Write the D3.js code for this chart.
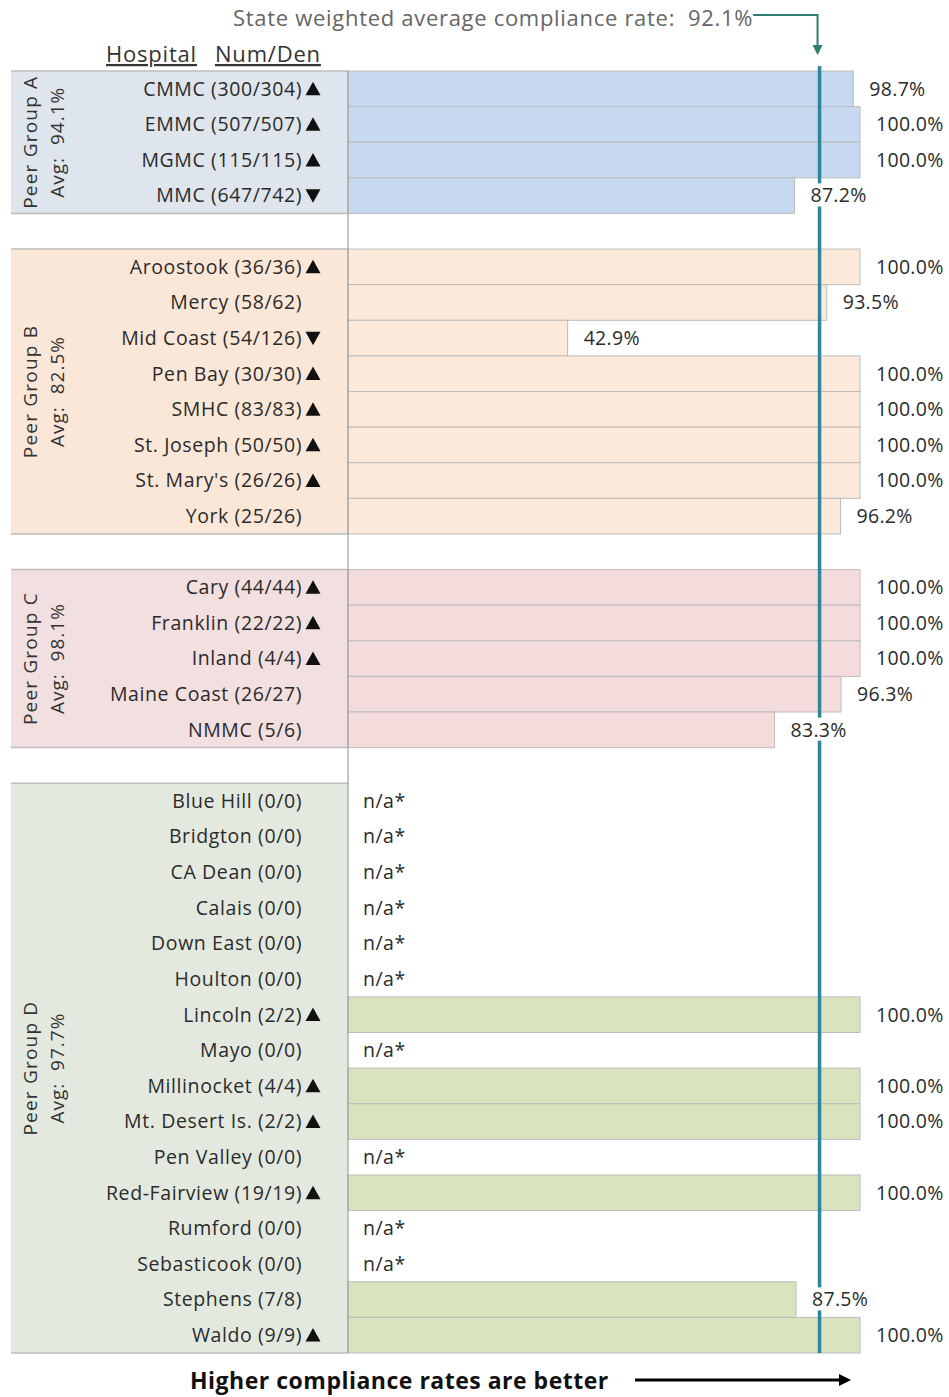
<!DOCTYPE html>
<html><head><meta charset="utf-8">
<script src="https://cdn.jsdelivr.net/npm/d3@7"></script>
<style>body{margin:0;background:#fff}svg{display:block}text{white-space:pre}</style>
</head><body>
<svg id="c" width="949" height="1397"></svg>
<script>
const groups = ["A","B","C","D"];
const groupNames = ["Peer Group A","Peer Group B","Peer Group C","Peer Group D"];
const groupAvgs = ["Avg:  94.1%","Avg:  82.5%","Avg:  98.1%","Avg:  97.7%"];
const groupFill = ["#dfe5ec","#fbe7d8","#f2dfdf","#e4e9e0"];
const barFill = ["#c6d9f1","#fde9d9","#f4dcdc","#d7e4bd"];

const hospGroup = ["A","A","A","A",
  "B","B","B","B","B","B","B","B",
  "C","C","C","C","C",
  "D","D","D","D","D","D","D","D","D","D","D","D","D","D","D","D"];
const hospitals = ["CMMC","EMMC","MGMC","MMC",
  "Aroostook","Mercy","Mid Coast","Pen Bay","SMHC","St. Joseph","St. Mary's","York",
  "Cary","Franklin","Inland","Maine Coast","NMMC",
  "Blue Hill","Bridgton","CA Dean","Calais","Down East","Houlton","Lincoln","Mayo","Millinocket","Mt. Desert Is.","Pen Valley","Red-Fairview","Rumford","Sebasticook","Stephens","Waldo"];
const numDen = ["(300/304)","(507/507)","(115/115)","(647/742)",
  "(36/36)","(58/62)","(54/126)","(30/30)","(83/83)","(50/50)","(26/26)","(25/26)",
  "(44/44)","(22/22)","(4/4)","(26/27)","(5/6)",
  "(0/0)","(0/0)","(0/0)","(0/0)","(0/0)","(0/0)","(2/2)","(0/0)","(4/4)","(2/2)","(0/0)","(19/19)","(0/0)","(0/0)","(7/8)","(9/9)"];
const rates = [98.7,100.0,100.0,87.2,
  100.0,93.5,42.9,100.0,100.0,100.0,100.0,96.2,
  100.0,100.0,100.0,96.3,83.3,
  null,null,null,null,null,null,100.0,null,100.0,100.0,null,100.0,null,null,87.5,100.0];
const trends = ["up","up","up","down",
  "up","","down","up","up","up","up","",
  "up","up","up","","",
  "","","","","","","up","","up","up","","up","","","","up"];
const stateAvg = 92.1;

const svg = d3.select("#c");
const FONT = "'Open Sans', Lato, sans-serif";

const slots = [];
groups.forEach((g, gi) => {
  hospitals.forEach((h, i) => { if (hospGroup[i] === g) slots.push("h" + i); });
  if (gi < groups.length - 1) slots.push("gap" + gi);
});
const y = d3.scaleBand().domain(slots).range([71, 1353]).padding(0);
const x = d3.scaleLinear().domain([0, 100]).range([348, 860]);

// group panels
groups.forEach((g, gi) => {
  const idx = hospitals.map((h, i) => i).filter(i => hospGroup[i] === g);
  const y0 = y("h" + idx[0]), y1 = y("h" + idx[idx.length - 1]) + y.bandwidth();
  svg.append("rect").attr("x", 11).attr("y", y0).attr("width", x(0) - 11).attr("height", y1 - y0)
    .attr("fill", groupFill[gi]);
  svg.append("line").attr("x1", 11).attr("x2", x(0)).attr("y1", y0).attr("y2", y0).attr("stroke", "#bdbdbd").attr("stroke-width", 1.5);
  svg.append("line").attr("x1", 11).attr("x2", x(0)).attr("y1", y1).attr("y2", y1).attr("stroke", "#bdbdbd").attr("stroke-width", 1.5);
  const cy = (y0 + y1) / 2;
  svg.append("text").attr("transform", `translate(37,${cy}) rotate(-90)`).attr("text-anchor", "middle")
    .attr("font-family", FONT).attr("font-size", 19).attr("letter-spacing", 1.2).attr("fill", "#333").text(groupNames[gi]);
  svg.append("text").attr("transform", `translate(64,${cy}) rotate(-90)`).attr("text-anchor", "middle")
    .attr("font-family", FONT).attr("font-size", 19).attr("letter-spacing", 1.0).attr("fill", "#333").text(groupAvgs[gi]);
});

// bars
hospitals.forEach((h, i) => {
  const gi = groups.indexOf(hospGroup[i]);
  const yy = y("h" + i);
  if (rates[i] !== null) {
    svg.append("rect").attr("x", x(0)).attr("y", yy).attr("width", x(rates[i]) - x(0)).attr("height", y.bandwidth())
      .attr("fill", barFill[gi]).attr("stroke", "#bcbcbc").attr("stroke-width", 1);
  }
});

svg.append("line").attr("x1", x(0)).attr("x2", x(0)).attr("y1", 71).attr("y2", 1353).attr("stroke", "#a0a0a0").attr("stroke-width", 1.2);

svg.append("line").attr("x1", x(stateAvg)).attr("x2", x(stateAvg)).attr("y1", 66).attr("y2", 1353)
  .attr("stroke", "#31849b").attr("stroke-width", 3.5);

// hospital labels
hospitals.forEach((h, i) => {
  const cy = y("h" + i) + y.bandwidth() / 2;
  svg.append("text").attr("x", 302).attr("y", cy).attr("dy", "0.35em").attr("text-anchor", "end")
    .attr("font-family", FONT).attr("font-size", 19.5).attr("letter-spacing", 0.6).attr("fill", "#2b2b2b").text(h + " " + numDen[i]);
  if (trends[i]) {
    const s = 7.5, cx = 313;
    const pts = trends[i] === "up"
      ? [[cx - s, cy + s * 0.85], [cx + s, cy + s * 0.85], [cx, cy - s * 0.95]]
      : [[cx - s, cy - s * 0.85], [cx + s, cy - s * 0.85], [cx, cy + s * 0.95]];
    svg.append("path").attr("d", d3.line()(pts) + "Z").attr("fill", "#111");
  }
});

// value labels
hospitals.forEach((h, i) => {
  const cy = y("h" + i) + y.bandwidth() / 2;
  if (rates[i] === null) {
    svg.append("text").attr("x", 363).attr("y", cy).attr("dy", "0.35em")
      .attr("font-family", FONT).attr("font-size", 19.5).attr("letter-spacing", 0.5).attr("fill", "#2b2b2b").text("n/a*");
  } else {
    const t = svg.append("text").attr("x", x(rates[i]) + 16).attr("y", cy).attr("dy", "0.35em")
      .attr("font-family", FONT).attr("font-size", 19.5).attr("letter-spacing", 0.3).attr("fill", "#2b2b2b").text(rates[i].toFixed(1) + "%");
    const b = t.node().getBBox();
    svg.insert("rect", () => t.node()).attr("x", b.x - 2).attr("y", b.y + 2).attr("width", b.width + 4).attr("height", b.height - 4).attr("fill", "#fff");
  }
});

// headers
svg.append("text").attr("x", 106).attr("y", 62).attr("font-family", FONT).attr("font-size", 22).attr("letter-spacing", 0.8).attr("fill", "#333")
  .attr("text-decoration", "underline").text("Hospital");
svg.append("text").attr("x", 215).attr("y", 62).attr("font-family", FONT).attr("font-size", 22).attr("letter-spacing", 0.8).attr("fill", "#333")
  .attr("text-decoration", "underline").text("Num/Den");

// title annotation
const title = svg.append("text").attr("x", 233).attr("y", 26).attr("font-family", FONT).attr("font-size", 22).attr("letter-spacing", 0.7).attr("fill", "#666")
  .text("State weighted average compliance rate:  " + stateAvg.toFixed(1) + "%");
const tb = title.node().getBBox();
svg.append("defs").html(`
<marker id="ah" viewBox="0 0 10 10" refX="5" refY="5" markerWidth="5" markerHeight="5" orient="auto-start-reverse"><path d="M0,0L10,5L0,10z" fill="#2e7d6e"/></marker>
<marker id="ab" viewBox="0 0 10 10" refX="5" refY="5" markerWidth="4" markerHeight="4" orient="auto"><path d="M0,0L10,5L0,10z" fill="#000"/></marker>`);
svg.append("path").attr("d", `M${Math.min(tb.x + tb.width, 760)},15 H${x(stateAvg) - 2} V50`).attr("fill", "none")
  .attr("stroke", "#2e7d6e").attr("stroke-width", 2).attr("marker-end", "url(#ah)");

// bottom note
svg.append("text").attr("x", 190).attr("y", 1389).attr("font-family", FONT).attr("font-size", 23).attr("letter-spacing", 0.5).attr("font-weight", "bold")
  .attr("fill", "#111").text("Higher compliance rates are better");
svg.append("line").attr("x1", 635).attr("x2", 845).attr("y1", 1380).attr("y2", 1380).attr("stroke", "#000").attr("stroke-width", 3)
  .attr("marker-end", "url(#ab)");
</script>
</body></html>
